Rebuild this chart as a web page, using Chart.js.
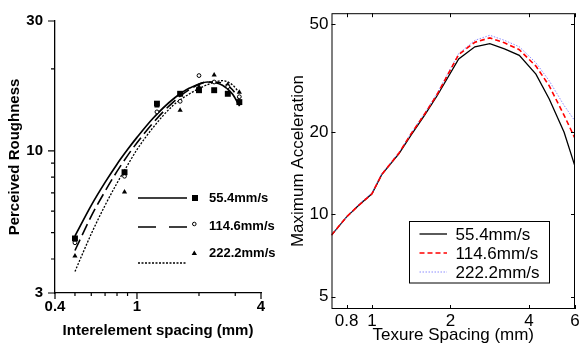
<!DOCTYPE html>
<html lang="en">
<head>
<meta charset="UTF-8">
<title>Perceived roughness and maximum acceleration</title>
<script src="https://cdn.jsdelivr.net/npm/chart.js@4.4.1/dist/chart.umd.min.js"></script>
<style>
  body { margin: 0; background: #fff; width: 579px; height: 347px; overflow: hidden; position: relative; }
  canvas { position: absolute; top: 0; }
  #left { left: 0; }
  #right { left: 290px; }
</style>
</head>
<body>
<canvas id="left" width="290" height="347"></canvas>
<canvas id="right" width="300" height="347"></canvas>
<script>
// ---- left panel: perceived roughness ----
const speeds = ['55.4mm/s', '114.6mm/s', '222.2mm/s'];
const spacingX = [0.5, 0.87, 1.25, 1.62, 2.0, 2.37, 2.76, 3.14];
const rough554 = [4.76, 8.34, 14.9, 16.2, 16.7, 16.7, 16.2, 15.1];
const rough1146 = [4.59, 8.06, 13.9, 15.2, 18.9, 17.9, 17.2, 15.8];
const rough2222 = [4.1, 7.05, 14.6, 14.1, 17.2, 19.0, 17.5, 16.4];

// fitted curves
const fitX = [0.5, 0.6, 0.7, 0.8, 0.9, 1.0, 1.2, 1.5, 1.8, 2.2, 2.6, 2.9, 3.15];
const fit554 = [4.86, 6.3, 7.65, 8.93, 10.1, 11.2, 13.2, 15.5, 17.0, 17.9, 17.4, 16.2, 14.6];
const fit1146 = [4.3, 5.75, 7.1, 8.4, 9.6, 10.7, 12.7, 15.1, 16.8, 17.9, 17.75, 16.8, 15.4];
const fit2222 = [3.6, 4.95, 6.3, 7.6, 8.85, 10.1, 12.2, 14.7, 16.2, 17.5, 18.1, 17.5, 16.3];

const leftXTicks = [0.4, 1, 4];
const leftXMinor = [0.5, 0.6, 0.7, 0.8, 0.9, 2, 3];
const leftYTicks = [3, 10, 30];
const leftYMinor = [4, 5, 6, 7, 8, 9, 20];

// ---- right panel: maximum acceleration ----
const textureX = [0.7, 0.8, 0.89, 1.0, 1.09, 1.27, 1.41, 1.59, 1.78, 2.15, 2.48, 2.83, 3.22, 3.67, 4.25, 4.78, 5.45, 6.0];
const acc554 = [8.4, 9.8, 10.8, 11.9, 14.0, 16.7, 19.5, 23.1, 27.3, 37.2, 41.2, 42.3, 40.5, 38.3, 32.7, 26.5, 20.0, 15.0];
const acc1146 = [8.4, 9.8, 10.8, 11.9, 14.0, 16.8, 19.7, 23.3, 27.6, 38.6, 42.8, 44.4, 42.6, 40.2, 35.0, 29.6, 23.1, 19.0];
const acc2222 = [8.4, 9.8, 10.9, 12.0, 14.1, 16.9, 19.8, 23.5, 27.9, 38.9, 43.5, 45.4, 43.5, 41.2, 36.0, 30.9, 25.1, 22.0];

const rightXTicks = [0.8, 1, 2, 4, 6];
const rightYTicks = [5, 10, 20, 50];

const pts = (xs, ys) => xs.map((x, i) => ({ x: x, y: ys[i] }));
const BOLD = 'Liberation Sans, Arial, sans-serif';

// minor ticks + legend for the left chart
const leftExtras = {
  id: 'leftExtras',
  afterDraw(chart) {
    const ctx = chart.ctx, a = chart.chartArea;
    const xs = chart.scales.x, ys = chart.scales.y;
    ctx.save();
    ctx.strokeStyle = '#000';
    ctx.lineWidth = 1.2;
    ctx.beginPath();
    leftYTicks.forEach(v => { const y = ys.getPixelForValue(v); ctx.moveTo(a.left - 7, y); ctx.lineTo(a.left, y); });
    leftYMinor.forEach(v => { const y = ys.getPixelForValue(v); ctx.moveTo(a.left - 4, y); ctx.lineTo(a.left, y); });
    leftXTicks.forEach(v => { const x = xs.getPixelForValue(v); ctx.moveTo(x, a.bottom); ctx.lineTo(x, a.bottom + 6); });
    leftXMinor.forEach(v => { const x = xs.getPixelForValue(v); ctx.moveTo(x, a.bottom); ctx.lineTo(x, a.bottom + 3); });
    ctx.stroke();

    // legend
    ctx.lineWidth = 1.5;
    ctx.fillStyle = '#000';
    ctx.setLineDash([]);
    ctx.beginPath(); ctx.moveTo(138, 198); ctx.lineTo(187, 198); ctx.stroke();
    ctx.fillRect(192, 195, 6, 6);
    ctx.setLineDash([18, 13]);
    ctx.beginPath(); ctx.moveTo(138, 227); ctx.lineTo(187, 227); ctx.stroke();
    ctx.setLineDash([]);
    ctx.lineWidth = 1;
    ctx.beginPath(); ctx.arc(194.3, 224, 1.8, 0, Math.PI * 2); ctx.stroke();
    ctx.beginPath(); ctx.moveTo(194.3, 250.5); ctx.lineTo(197, 255); ctx.lineTo(191.6, 255); ctx.closePath(); ctx.fill();
    ctx.lineWidth = 1.3;
    ctx.setLineDash([2, 1.5]);
    ctx.beginPath(); ctx.moveTo(138, 263); ctx.lineTo(186, 263); ctx.stroke();
    ctx.setLineDash([]);
    ctx.font = 'bold 13px ' + BOLD;
    ctx.textBaseline = 'middle';
    ctx.fillText(speeds[0], 209, 198);
    ctx.fillText(speeds[1], 209, 226);
    ctx.fillText(speeds[2], 209, 253);
    ctx.restore();
  }
};

// box, inward ticks and legend for the right chart
const rightExtras = {
  id: 'rightExtras',
  afterDraw(chart) {
    const ctx = chart.ctx, a = chart.chartArea;
    const xs = chart.scales.x, ys = chart.scales.y;
    ctx.save();
    ctx.strokeStyle = '#000';
    ctx.lineWidth = 1;
    ctx.strokeRect(a.left + 0.5, a.top + 0.5, a.right - a.left - 1, a.bottom - a.top - 1);
    ctx.beginPath();
    rightXTicks.forEach(v => {
      const x = Math.round(xs.getPixelForValue(v)) + 0.5;
      ctx.moveTo(x, a.bottom); ctx.lineTo(x, a.bottom - 4);
      ctx.moveTo(x, a.top); ctx.lineTo(x, a.top + 4);
    });
    rightYTicks.forEach(v => {
      const y = Math.round(ys.getPixelForValue(v)) + 0.5;
      ctx.moveTo(a.left, y); ctx.lineTo(a.left + 4, y);
      ctx.moveTo(a.right, y); ctx.lineTo(a.right - 4, y);
    });
    ctx.stroke();

    // legend
    ctx.fillStyle = '#fff';
    ctx.fillRect(119.5, 221.5, 140, 61.5);
    ctx.strokeRect(119.5, 221.5, 140, 61.5);
    const rows = [234, 253, 272];
    const styles = [
      { c: '#000', d: [], w: 1.3 },
      { c: '#ff0000', d: [5, 3], w: 1.6 },
      { c: '#8c8cff', d: [1.5, 1.5], w: 1 }
    ];
    rows.forEach((y, i) => {
      ctx.strokeStyle = styles[i].c;
      ctx.lineWidth = styles[i].w;
      ctx.setLineDash(styles[i].d);
      ctx.beginPath(); ctx.moveTo(129.5, y); ctx.lineTo(157, y); ctx.stroke();
    });
    ctx.setLineDash([]);
    ctx.fillStyle = '#000';
    ctx.font = '17px ' + BOLD;
    ctx.textBaseline = 'middle';
    rows.forEach((y, i) => ctx.fillText(speeds[i], 165.5, y + 1));
    ctx.restore();
  }
};

const leftFont = { family: BOLD, size: 15, weight: 'bold' };

new Chart(document.getElementById('left'), {
  data: {
    datasets: [
      { type: 'scatter', data: pts(spacingX, rough554), pointStyle: 'rect', pointRadius: 4.2, backgroundColor: '#000', borderColor: '#000', borderWidth: 0 },
      { type: 'scatter', data: pts(spacingX, rough1146), pointStyle: 'circle', pointRadius: 1.9, backgroundColor: '#fff', borderColor: '#000', borderWidth: 1 },
      { type: 'scatter', data: pts(spacingX, rough2222), pointStyle: 'triangle', pointRadius: 3, backgroundColor: '#000', borderColor: '#000', borderWidth: 0 },
      { type: 'line', data: pts(fitX, fit554), borderColor: '#000', borderWidth: 1.7, pointRadius: 0, cubicInterpolationMode: 'monotone', fill: false },
      { type: 'line', data: pts(fitX, fit1146), borderColor: '#000', borderWidth: 1.6, borderDash: [12, 5], pointRadius: 0, cubicInterpolationMode: 'monotone', fill: false },
      { type: 'line', data: pts(fitX, fit2222), borderColor: '#000', borderWidth: 1.3, borderDash: [2, 1.5], pointRadius: 0, cubicInterpolationMode: 'monotone', fill: false }
    ]
  },
  options: {
    responsive: false,
    animation: false,
    devicePixelRatio: 1,
    layout: { padding: { top: 19.5, right: 29, left: 0, bottom: 0 } },
    plugins: { legend: { display: false }, tooltip: { enabled: false } },
    scales: {
      x: {
        type: 'logarithmic', min: 0.4, max: 4,
        afterBuildTicks: s => { s.ticks = leftXTicks.map(v => ({ value: v })); },
        afterFit: s => { s.height = 54; },
        grid: { display: false, drawTicks: false },
        border: { display: true, color: '#000', width: 1.3 },
        ticks: { font: leftFont, color: '#000', padding: 5, maxRotation: 0, autoSkip: false, callback: v => String(v) },
        title: { display: true, text: 'Interelement spacing (mm)', font: leftFont, color: '#000', padding: { top: 0, bottom: 7 } }
      },
      y: {
        type: 'logarithmic', min: 3, max: 30,
        afterBuildTicks: s => { s.ticks = leftYTicks.map(v => ({ value: v })); },
        afterFit: s => { s.width = 55; },
        grid: { display: false, drawTicks: false },
        border: { display: true, color: '#000', width: 1.3 },
        ticks: { font: leftFont, color: '#000', padding: 12, autoSkip: false, callback: v => String(v) },
        title: { display: true, text: 'Perceived Roughness', font: leftFont, color: '#000', padding: { top: 6, bottom: 0 } }
      }
    }
  },
  plugins: [leftExtras]
});

const rightFont = { family: BOLD, size: 17 };

new Chart(document.getElementById('right'), {
  type: 'line',
  data: {
    datasets: [
      { data: pts(textureX, acc554), borderColor: '#000', borderWidth: 1.3, pointRadius: 0, order: 3 },
      { data: pts(textureX, acc1146), borderColor: '#ff0000', borderWidth: 1.6, borderDash: [5, 3], pointRadius: 0, order: 1 },
      { data: pts(textureX, acc2222), borderColor: '#8c8cff', borderWidth: 1, borderDash: [1.5, 1.5], pointRadius: 0, order: 2 }
    ]
  },
  options: {
    responsive: false,
    animation: false,
    devicePixelRatio: 1,
    layout: { padding: { top: 10.5, right: 15, left: 0, bottom: 0 } },
    plugins: { legend: { display: false }, tooltip: { enabled: false } },
    scales: {
      x: {
        type: 'logarithmic', min: 0.7, max: 6,
        afterBuildTicks: s => { s.ticks = rightXTicks.map(v => ({ value: v })); },
        afterFit: s => { s.height = 38; },
        grid: { display: false, drawTicks: false },
        border: { display: false },
        ticks: { font: rightFont, color: '#000', padding: 2, maxRotation: 0, autoSkip: false, callback: v => String(v) },
        title: { display: true, text: 'Texure Spacing (mm)', font: { family: BOLD, size: 17, lineHeight: 1 }, color: '#000', padding: { top: 0, bottom: 3 } }
      },
      y: {
        type: 'logarithmic', min: 4.5, max: 54.7,
        afterBuildTicks: s => { s.ticks = rightYTicks.map(v => ({ value: v })); },
        afterFit: s => { s.width = 41.5; },
        grid: { display: false, drawTicks: false },
        border: { display: false },
        ticks: { font: rightFont, color: '#000', padding: 3, autoSkip: false, callback: v => String(v) },
        title: { display: true, text: 'Maximum Acceleration', font: { family: BOLD, size: 17, lineHeight: 1 }, color: '#000', padding: { top: 0, bottom: 0 } }
      }
    }
  },
  plugins: [rightExtras]
});
</script>
</body>
</html>
